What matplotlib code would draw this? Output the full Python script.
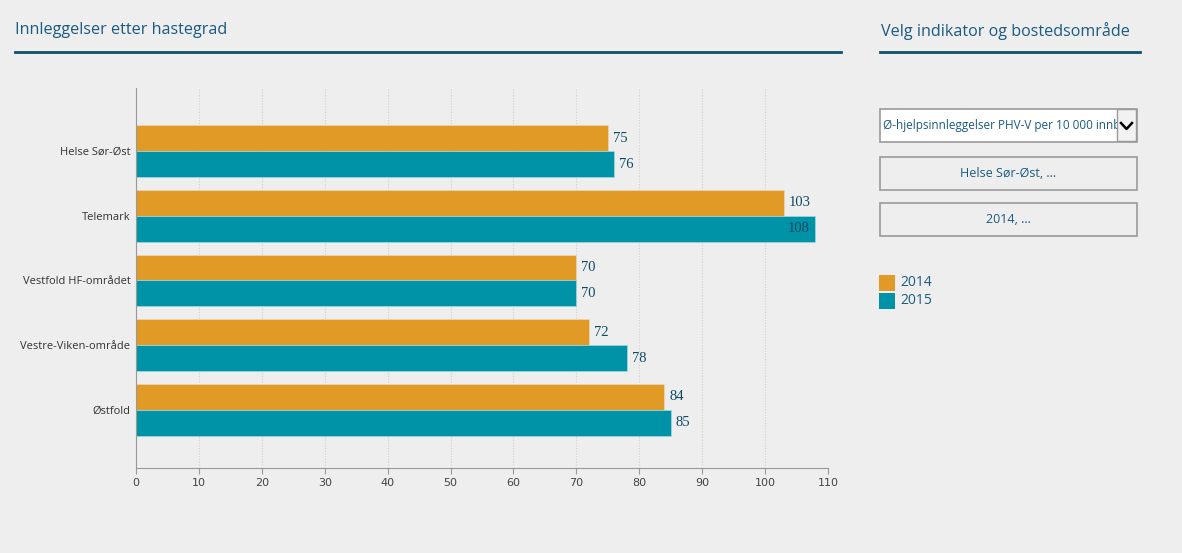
import numpy as np
import matplotlib.pyplot as plt
from matplotlib.patches import Rectangle
from matplotlib.lines import Line2D

# === Data ===
categories = ["Helse Sør-Øst", "Telemark", "Vestfold HF-området", "Vestre-Viken-område", "Østfold"]
years = ["2014", "2015"]
values_2014 = [75, 103, 70, 72, 84]
values_2015 = [76, 108, 70, 78, 85]
xticks = list(range(0, 111, 10))

# === Styles ===
bg = "#EEEEEE"
c2014 = "#E09A25"
c2015 = "#0093A8"
title_col = "#1B5B82"
rule_col = "#0E4F6B"
label_col = "#0D4A63"
ui_font = ["Open Sans", "DejaVu Sans"]

fig = plt.figure(figsize=(11.82, 5.53), dpi=100, facecolor=bg)
W, H = 1182, 553


def fx(px):
    return px / W


def fy(py):
    return 1 - py / H


# === Header texts and rules ===
fig.text(fx(15), fy(30), "Innleggelser etter hastegrad", color=title_col,
         fontsize=11.6, family=ui_font, va="center", ha="left")
fig.text(fx(881), fy(31), "Velg indikator og bostedsområde", color=title_col,
         fontsize=11.6, family=ui_font, va="center", ha="left")
fig.add_artist(Line2D([fx(15), fx(841)], [fy(52), fy(52)], color=rule_col, lw=2))
fig.add_artist(Line2D([fx(880), fx(1140)], [fy(52), fy(52)], color=rule_col, lw=2))

# === Bar chart ===
ax = fig.add_axes([fx(136), fy(468), fx(828 - 136), (468 - 88) / H])
ax.set_facecolor(bg)
y = np.arange(len(categories))
h = 0.4
ax.barh(y - h / 2, values_2014, height=h, color=c2014, edgecolor="#EAD9BC", linewidth=0.5)
ax.barh(y + h / 2, values_2015, height=h, color=c2015, edgecolor="#A9D8DF", linewidth=0.5)

for vals, off in [(values_2014, -h / 2), (values_2015, h / 2)]:
    for i, v in enumerate(vals):
        if v > 105:
            ax.text(v - 1.0, i + off, str(v), ha="right", va="center",
                    fontsize=10.5, color=label_col, family="Liberation Serif")
        else:
            ax.text(v + 0.8, i + off, str(v), ha="left", va="center",
                    fontsize=10.5, color=label_col, family="Liberation Serif")

ax.set_xlim(0, 110)
ax.set_ylim(4.9, -0.975)
ax.set_xticks(xticks)
ax.set_xticklabels([str(t) for t in xticks], fontsize=8, color="#444444",
                   family=["Liberation Sans Narrow", "DejaVu Sans"])
ax.set_yticks(y)
ax.set_yticklabels(categories, fontsize=8, color="#333333", family=ui_font)
ax.tick_params(axis="y", length=0, pad=4)
ax.tick_params(axis="x", length=4, color="#999999", pad=3)
ax.grid(axis="x", color="#D0D0D0", linestyle=(0, (1, 1.5)), linewidth=0.8)
ax.set_axisbelow(True)
for s in ["top", "right"]:
    ax.spines[s].set_visible(False)
ax.spines["left"].set_color("#999999")
ax.spines["bottom"].set_color("#999999")

# === Right panel: controls ===
def box(x0, y0, x1, y1, text, face, center=True):
    fig.add_artist(Rectangle((fx(x0), fy(y1)), fx(x1 - x0), (y1 - y0) / H,
                             facecolor=face, edgecolor="#9A9A9A", lw=1.2,
                             transform=fig.transFigure))
    if center:
        fig.text(fx((x0 + x1) / 2), fy((y0 + y1) / 2), text, ha="center", va="center",
                 fontsize=9, color=title_col, family=ui_font)


box(880, 109, 1137, 142, "", "white", center=False)
t = fig.text(fx(883), fy(126), "Ø-hjelpsinnleggelser PHV-V per 10 000 innbyggere",
             ha="left", va="center", fontsize=8.5, color=title_col, family=ui_font)
t.set_clip_path(Rectangle((fx(881), fy(141)), fx(1117 - 881), 32 / H,
                          transform=fig.transFigure))
fig.add_artist(Rectangle((fx(1117), fy(141)), fx(19), 32 / H, facecolor="#F2F2F2",
                         edgecolor="#9A9A9A", lw=1, transform=fig.transFigure))
fig.add_artist(Line2D([fx(1121), fx(1126.5), fx(1132)], [fy(123), fy(129), fy(123)],
                      color="black", lw=1.8))
box(880, 157, 1137, 190, "Helse Sør-Øst, ...", bg)
box(880, 203, 1137, 236, "2014, ...", bg)

# === Legend ===
for i, (lab, col) in enumerate(zip(years, [c2014, c2015])):
    y0 = 275 + i * 18
    fig.add_artist(Rectangle((fx(879), fy(y0 + 16)), fx(16), 16 / H, facecolor=col,
                             edgecolor="none", transform=fig.transFigure))
    fig.text(fx(900), fy(y0 + 8), lab, ha="left", va="center", fontsize=10,
             color=title_col, family=ui_font)

plt.savefig("out.png", dpi=100, facecolor=bg)
